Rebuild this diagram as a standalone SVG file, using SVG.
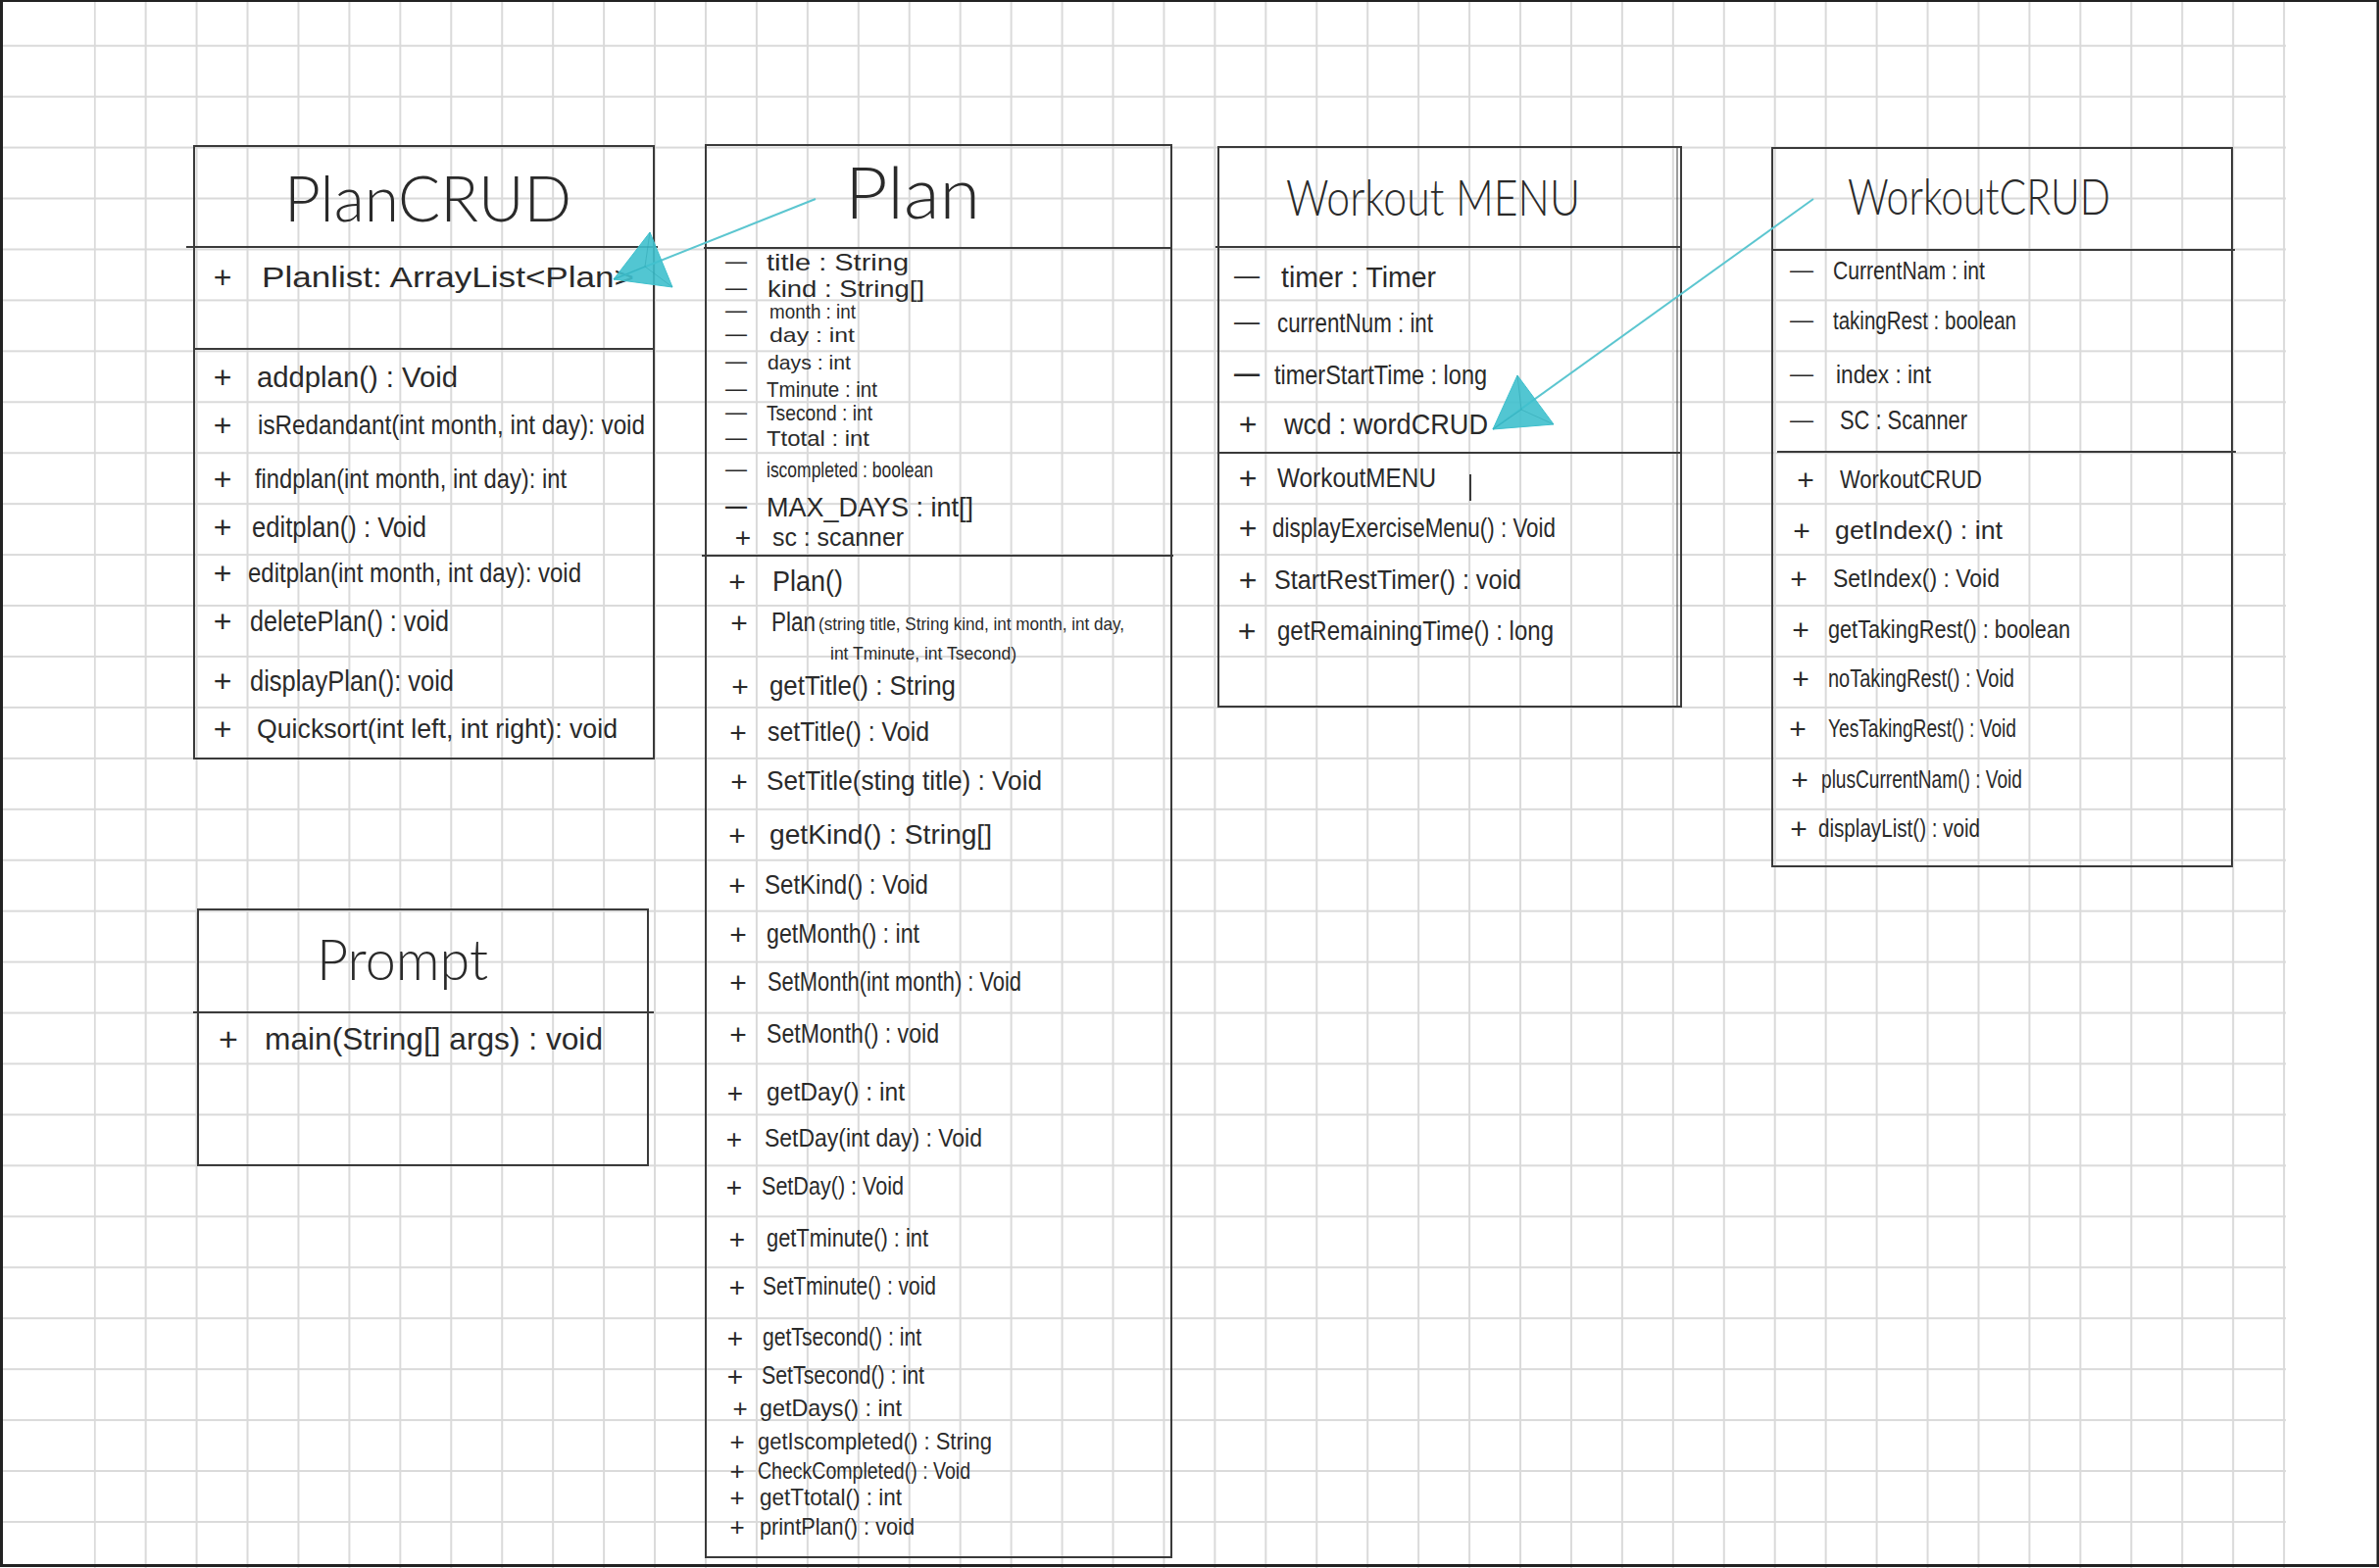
<svg xmlns="http://www.w3.org/2000/svg" width="2427" height="1600" viewBox="0 0 2427 1600">
<defs>
<style>
.t{font-family:"Liberation Sans",Arial,sans-serif;fill:#2a2a2a;}
.ti{font-family:Lato,"Liberation Sans",Arial,sans-serif;font-weight:300;fill:#2a2a2a;}
.m{text-anchor:middle;}
.box{fill:none;stroke:#3a3a3a;stroke-width:2;}
.ln{stroke:#3a3a3a;stroke-width:2;fill:none;}
.conn{stroke:#5cc6d0;stroke-width:2;fill:none;}
.head{fill:#3fc0cd;fill-opacity:0.9;stroke:#3fc0cd;stroke-width:1;}
.headin{stroke:#2a9fae;stroke-width:1;opacity:0.45;fill:none;}
</style>
<pattern id="gv" x="95.7" y="0" width="51.94" height="1600" patternUnits="userSpaceOnUse"><rect x="0" y="0" width="2" height="1600" fill="#dadada"/></pattern>
<pattern id="gh" x="0" y="45.7" width="2427" height="51.94" patternUnits="userSpaceOnUse"><rect x="0" y="0" width="2427" height="2" fill="#dadada"/></pattern>
</defs>
<rect x="0" y="0" width="2427" height="1600" fill="#ffffff"/>
<rect x="0" y="45" width="2332" height="1511" fill="url(#gh)"/>
<rect x="95.7" y="0" width="2236.3" height="1600" fill="url(#gv)"/>
<rect x="1.5" y="0.5" width="2424.5" height="1597" fill="none" stroke="#222" stroke-width="3"/>

<g id="PlanCRUD">
<rect class="box" x="198" y="149" width="469" height="625"/>
<line class="ln" x1="190" y1="252" x2="671" y2="252"/>
<line class="ln" x1="198" y1="356" x2="667" y2="356"/>
<text class="ti" x="290" y="226" font-size="66" textLength="293" lengthAdjust="spacingAndGlyphs">PlanCRUD</text>
<text class="t m" x="227" y="294" font-size="32">+</text>
<text class="t" x="267" y="293" font-size="30" textLength="380" lengthAdjust="spacingAndGlyphs">Planlist: ArrayList&lt;Plan&gt;</text>
<text class="t m" x="227" y="396" font-size="32">+</text>
<text class="t" x="262" y="395" font-size="30" textLength="205" lengthAdjust="spacingAndGlyphs">addplan() : Void</text>
<text class="t m" x="227" y="445" font-size="32">+</text>
<text class="t" x="263" y="443" font-size="28" textLength="395" lengthAdjust="spacingAndGlyphs">isRedandant(int month, int day): void</text>
<text class="t m" x="227" y="500" font-size="32">+</text>
<text class="t" x="260" y="498" font-size="28" textLength="318" lengthAdjust="spacingAndGlyphs">findplan(int month, int day): int</text>
<text class="t m" x="227" y="549" font-size="32">+</text>
<text class="t" x="257" y="548" font-size="30" textLength="178" lengthAdjust="spacingAndGlyphs">editplan() : Void</text>
<text class="t m" x="227" y="596" font-size="32">+</text>
<text class="t" x="253" y="594" font-size="28" textLength="340" lengthAdjust="spacingAndGlyphs">editplan(int month, int day): void</text>
<text class="t m" x="227" y="645" font-size="32">+</text>
<text class="t" x="255" y="644" font-size="30" textLength="203" lengthAdjust="spacingAndGlyphs">deletePlan() : void</text>
<text class="t m" x="227" y="706" font-size="32">+</text>
<text class="t" x="255" y="705" font-size="30" textLength="208" lengthAdjust="spacingAndGlyphs">displayPlan(): void</text>
<text class="t m" x="227" y="755" font-size="32">+</text>
<text class="t" x="262" y="753" font-size="28" textLength="368" lengthAdjust="spacingAndGlyphs">Quicksort(int left, int right): void</text>
</g>

<g id="Plan">
<rect class="box" x="720" y="148" width="475" height="1441"/>
<line class="ln" x1="718" y1="253" x2="1195" y2="253"/>
<line class="ln" x1="716" y1="567" x2="1197" y2="567"/>
<text class="ti" x="862" y="223" font-size="72" textLength="138" lengthAdjust="spacingAndGlyphs">Plan</text>
<text class="t m" x="751" y="274" font-size="22">—</text>
<text class="t" x="782" y="276" font-size="24" textLength="145" lengthAdjust="spacingAndGlyphs">title : String</text>
<text class="t m" x="751" y="301" font-size="22">—</text>
<text class="t" x="783" y="303" font-size="24" textLength="160" lengthAdjust="spacingAndGlyphs">kind : String[]</text>
<text class="t m" x="751" y="324" font-size="22">—</text>
<text class="t" x="785" y="325" font-size="21" textLength="88" lengthAdjust="spacingAndGlyphs">month : int</text>
<text class="t m" x="751" y="348" font-size="22">—</text>
<text class="t" x="785" y="349" font-size="21" textLength="87" lengthAdjust="spacingAndGlyphs">day : int</text>
<text class="t m" x="751" y="376" font-size="22">—</text>
<text class="t" x="783" y="377" font-size="21" textLength="85" lengthAdjust="spacingAndGlyphs">days : int</text>
<text class="t m" x="751" y="404" font-size="22">—</text>
<text class="t" x="782" y="405" font-size="22" textLength="113" lengthAdjust="spacingAndGlyphs">Tminute : int</text>
<text class="t m" x="751" y="428" font-size="22">—</text>
<text class="t" x="782" y="429" font-size="22" textLength="108" lengthAdjust="spacingAndGlyphs">Tsecond : int</text>
<text class="t m" x="751" y="454" font-size="22">—</text>
<text class="t" x="782" y="455" font-size="22" textLength="105" lengthAdjust="spacingAndGlyphs">Ttotal : int</text>
<text class="t m" x="751" y="486" font-size="22">—</text>
<text class="t" x="782" y="487" font-size="22" textLength="170" lengthAdjust="spacingAndGlyphs">iscompleted : boolean</text>
<text class="t m" x="751" y="524" font-size="22" font-weight="bold">—</text>
<text class="t" x="782" y="527" font-size="28" textLength="211" lengthAdjust="spacingAndGlyphs">MAX_DAYS : int[]</text>
<text class="t m" x="758" y="558" font-size="28">+</text>
<text class="t" x="788" y="557" font-size="26" textLength="134" lengthAdjust="spacingAndGlyphs">sc : scanner</text>

<text class="t m" x="752" y="604" font-size="30">+</text>
<text class="t" x="788" y="603" font-size="30" textLength="72" lengthAdjust="spacingAndGlyphs">Plan()</text>
<text class="t m" x="754" y="646" font-size="30">+</text>
<text class="t" x="787" y="644" font-size="27" textLength="45" lengthAdjust="spacingAndGlyphs">Plan</text>
<text class="t" x="835" y="643" font-size="19" textLength="312" lengthAdjust="spacingAndGlyphs">(string title, String kind, int month, int day,</text>
<text class="t" x="847" y="673" font-size="19" textLength="190" lengthAdjust="spacingAndGlyphs">int Tminute, int Tsecond)</text>
<text class="t m" x="755" y="711" font-size="30">+</text>
<text class="t" x="785" y="709" font-size="28" textLength="190" lengthAdjust="spacingAndGlyphs">getTitle() : String</text>
<text class="t m" x="753" y="758" font-size="30">+</text>
<text class="t" x="783" y="756" font-size="28" textLength="165" lengthAdjust="spacingAndGlyphs">setTitle() : Void</text>
<text class="t m" x="754" y="808" font-size="30">+</text>
<text class="t" x="782" y="806" font-size="28" textLength="281" lengthAdjust="spacingAndGlyphs">SetTitle(sting title) : Void</text>
<text class="t m" x="752" y="863" font-size="30">+</text>
<text class="t" x="785" y="861" font-size="28" textLength="227" lengthAdjust="spacingAndGlyphs">getKind() : String[]</text>
<text class="t m" x="752" y="914" font-size="30">+</text>
<text class="t" x="780" y="912" font-size="28" textLength="167" lengthAdjust="spacingAndGlyphs">SetKind() : Void</text>
<text class="t m" x="753" y="964" font-size="30">+</text>
<text class="t" x="782" y="962" font-size="28" textLength="156" lengthAdjust="spacingAndGlyphs">getMonth() : int</text>
<text class="t m" x="753" y="1013" font-size="30">+</text>
<text class="t" x="783" y="1011" font-size="28" textLength="259" lengthAdjust="spacingAndGlyphs">SetMonth(int month) : Void</text>
<text class="t m" x="753" y="1066" font-size="30">+</text>
<text class="t" x="782" y="1064" font-size="28" textLength="176" lengthAdjust="spacingAndGlyphs">SetMonth() : void</text>
<text class="t m" x="750" y="1125" font-size="28">+</text>
<text class="t" x="782" y="1123" font-size="26" textLength="141" lengthAdjust="spacingAndGlyphs">getDay() : int</text>
<text class="t m" x="749" y="1172" font-size="28">+</text>
<text class="t" x="780" y="1170" font-size="26" textLength="222" lengthAdjust="spacingAndGlyphs">SetDay(int day) : Void</text>
<text class="t m" x="749" y="1221" font-size="28">+</text>
<text class="t" x="777" y="1219" font-size="26" textLength="145" lengthAdjust="spacingAndGlyphs">SetDay() : Void</text>
<text class="t m" x="752" y="1274" font-size="28">+</text>
<text class="t" x="782" y="1272" font-size="26" textLength="165" lengthAdjust="spacingAndGlyphs">getTminute() : int</text>
<text class="t m" x="752" y="1323" font-size="28">+</text>
<text class="t" x="778" y="1321" font-size="26" textLength="177" lengthAdjust="spacingAndGlyphs">SetTminute() : void</text>
<text class="t m" x="750" y="1375" font-size="28">+</text>
<text class="t" x="778" y="1373" font-size="26" textLength="162" lengthAdjust="spacingAndGlyphs">getTsecond() : int</text>
<text class="t m" x="750" y="1414" font-size="28">+</text>
<text class="t" x="777" y="1412" font-size="26" textLength="166" lengthAdjust="spacingAndGlyphs">SetTsecond() : int</text>
<text class="t m" x="755" y="1446" font-size="26">+</text>
<text class="t" x="775" y="1445" font-size="24" textLength="145" lengthAdjust="spacingAndGlyphs">getDays() : int</text>
<text class="t m" x="752" y="1480" font-size="26">+</text>
<text class="t" x="773" y="1479" font-size="24" textLength="239" lengthAdjust="spacingAndGlyphs">getIscompleted() : String</text>
<text class="t m" x="752" y="1510" font-size="26">+</text>
<text class="t" x="773" y="1509" font-size="24" textLength="217" lengthAdjust="spacingAndGlyphs">CheckCompleted() : Void</text>
<text class="t m" x="752" y="1537" font-size="26">+</text>
<text class="t" x="775" y="1536" font-size="24" textLength="145" lengthAdjust="spacingAndGlyphs">getTtotal() : int</text>
<text class="t m" x="752" y="1567" font-size="26">+</text>
<text class="t" x="775" y="1566" font-size="24" textLength="158" lengthAdjust="spacingAndGlyphs">printPlan() : void</text>
</g>

<g id="WorkoutMENU">
<rect class="box" x="1243" y="150" width="472" height="571"/>
<line class="ln" x1="1711" y1="150" x2="1711" y2="721" stroke-opacity="0.5"/>
<line class="ln" x1="1240" y1="252" x2="1715" y2="252"/>
<line class="ln" x1="1242" y1="462" x2="1715" y2="462"/>
<text class="ti" x="1312" y="220" font-size="52" textLength="300" lengthAdjust="spacingAndGlyphs">Workout MENU</text>
<text class="t m" x="1272" y="290" font-size="26">—</text>
<text class="t" x="1307" y="293" font-size="30" textLength="158" lengthAdjust="spacingAndGlyphs">timer : Timer</text>
<text class="t m" x="1272" y="337" font-size="26">—</text>
<text class="t" x="1303" y="339" font-size="28" textLength="159" lengthAdjust="spacingAndGlyphs">currentNum : int</text>
<text class="t m" x="1272" y="390" font-size="26" font-weight="bold">—</text>
<text class="t" x="1300" y="392" font-size="28" textLength="217" lengthAdjust="spacingAndGlyphs">timerStartTime : long</text>
<text class="t m" x="1273" y="444" font-size="32">+</text>
<text class="t" x="1310" y="443" font-size="30" textLength="208" lengthAdjust="spacingAndGlyphs">wcd : wordCRUD</text>
<text class="t m" x="1273" y="499" font-size="32">+</text>
<text class="t" x="1303" y="497" font-size="28" textLength="162" lengthAdjust="spacingAndGlyphs">WorkoutMENU</text>
<line class="ln" x1="1500" y1="484" x2="1500" y2="511"/>
<text class="t m" x="1273" y="550" font-size="32">+</text>
<text class="t" x="1298" y="548" font-size="27" textLength="289" lengthAdjust="spacingAndGlyphs">displayExerciseMenu() : Void</text>
<text class="t m" x="1273" y="603" font-size="32">+</text>
<text class="t" x="1300" y="601" font-size="27" textLength="252" lengthAdjust="spacingAndGlyphs">StartRestTimer() : void</text>
<text class="t m" x="1272" y="655" font-size="32">+</text>
<text class="t" x="1303" y="653" font-size="27" textLength="282" lengthAdjust="spacingAndGlyphs">getRemainingTime() : long</text>
</g>

<g id="WorkoutCRUD">
<rect class="box" x="1808" y="151" width="469" height="733"/>
<line class="ln" x1="1808" y1="255" x2="2280" y2="255"/>
<line class="ln" x1="1813" y1="461" x2="2281" y2="461"/>
<text class="ti" x="1885" y="219" font-size="52" textLength="268" lengthAdjust="spacingAndGlyphs">WorkoutCRUD</text>
<text class="t m" x="1838" y="283" font-size="24">—</text>
<text class="t" x="1870" y="285" font-size="26" textLength="155" lengthAdjust="spacingAndGlyphs">CurrentNam : int</text>
<text class="t m" x="1838" y="334" font-size="24">—</text>
<text class="t" x="1870" y="336" font-size="26" textLength="187" lengthAdjust="spacingAndGlyphs">takingRest : boolean</text>
<text class="t m" x="1838" y="389" font-size="24">—</text>
<text class="t" x="1873" y="391" font-size="26" textLength="97" lengthAdjust="spacingAndGlyphs">index : int</text>
<text class="t m" x="1838" y="436" font-size="24">—</text>
<text class="t" x="1877" y="438" font-size="28" textLength="130" lengthAdjust="spacingAndGlyphs">SC : Scanner</text>
<text class="t m" x="1842" y="500" font-size="30">+</text>
<text class="t" x="1877" y="498" font-size="26" textLength="145" lengthAdjust="spacingAndGlyphs">WorkoutCRUD</text>
<text class="t m" x="1838" y="552" font-size="30">+</text>
<text class="t" x="1872" y="550" font-size="26" textLength="171" lengthAdjust="spacingAndGlyphs">getIndex() : int</text>
<text class="t m" x="1835" y="601" font-size="30">+</text>
<text class="t" x="1870" y="599" font-size="26" textLength="170" lengthAdjust="spacingAndGlyphs">SetIndex() : Void</text>
<text class="t m" x="1837" y="653" font-size="30">+</text>
<text class="t" x="1865" y="651" font-size="26" textLength="247" lengthAdjust="spacingAndGlyphs">getTakingRest() : boolean</text>
<text class="t m" x="1837" y="703" font-size="30">+</text>
<text class="t" x="1865" y="701" font-size="26" textLength="190" lengthAdjust="spacingAndGlyphs">noTakingRest() : Void</text>
<text class="t m" x="1834" y="754" font-size="30">+</text>
<text class="t" x="1865" y="752" font-size="26" textLength="192" lengthAdjust="spacingAndGlyphs">YesTakingRest() : Void</text>
<text class="t m" x="1836" y="806" font-size="30">+</text>
<text class="t" x="1858" y="804" font-size="26" textLength="205" lengthAdjust="spacingAndGlyphs">plusCurrentNam() : Void</text>
<text class="t m" x="1835" y="856" font-size="30">+</text>
<text class="t" x="1855" y="854" font-size="26" textLength="165" lengthAdjust="spacingAndGlyphs">displayList() : void</text>
</g>

<g id="Prompt">
<rect class="box" x="202" y="928" width="459" height="261"/>
<line class="ln" x1="197" y1="1033" x2="667" y2="1033"/>
<text class="ti" x="323" y="1000" font-size="58" textLength="175" lengthAdjust="spacingAndGlyphs">Prompt</text>
<text class="t m" x="233" y="1072" font-size="34">+</text>
<text class="t" x="270" y="1071" font-size="32" textLength="345" lengthAdjust="spacingAndGlyphs">main(String[] args) : void</text>
</g>

<g id="connectors">
<g id="plan-to-plancrud">
<line class="conn" x1="832" y1="203" x2="626" y2="285"/>
<polygon class="head" points="626,285 663,237 686,293"/>
<path class="headin" d="M626,285 L658,272 M663,237 L658,272 M686,293 L658,272"/>
</g>
<g id="workoutcrud-to-workoutmenu">
<line class="conn" x1="1850" y1="203" x2="1523" y2="438"/>
<polygon class="head" points="1523,438 1548,383 1585,433"/>
<path class="headin" d="M1523,438 L1552,418 M1548,383 L1552,418 M1585,433 L1552,418"/>
</g>
</g>
</svg>
